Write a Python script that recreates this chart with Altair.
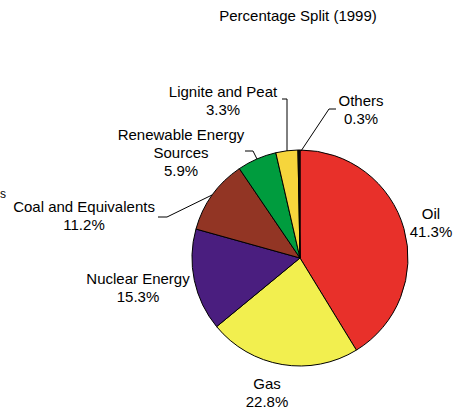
import altair as alt
import pandas as pd

# Primary energy consumption, percentage split (1999)
sources = ["Oil", "Gas", "Nuclear Energy", "Coal and Equivalents",
           "Renewable Energy Sources", "Lignite and Peat", "Others"]
shares = [41.3, 22.8, 15.3, 11.2, 5.9, 3.3, 0.3]
colors = ["#E8302A", "#F2EF4F", "#4A1E7F", "#923524", "#009C3E", "#F6D53C", "#111111"]

# Label text lines per source (name may wrap onto two lines)
name_lines = [["Oil"], ["Gas"], ["Nuclear Energy"], ["Coal and Equivalents"],
              ["Renewable Energy", "Sources"], ["Lignite and Peat"], ["Others"]]

# Label anchors (centre x, first baseline y) in pixels
label_x = [431, 267, 138, 84, 181, 223, 361]
label_y = [219, 389, 284, 212, 140, 97, 106]
line_step = 18

# Leader line paths (pixel points) for the crowded small slices
leaders = {
    "Coal and Equivalents": [(158, 217), (167, 217), (212, 195)],
    "Renewable Energy Sources": [(245, 151), (253, 151), (257, 159)],
    "Lignite and Peat": [(282, 99), (287, 99), (287, 151)],
    "Others": [(336, 109), (329, 109), (301, 151)],
}

W, H = 461, 412
CX, CY, R = 300, 258, 108
FONT = "Liberation Sans"

pie_df = pd.DataFrame({"source": sources, "share": shares, "idx": range(len(sources))})

rows = []
for i, src in enumerate(sources):
    lines = name_lines[i] + [f"{shares[i]}%"]
    for j, t in enumerate(lines):
        rows.append({"x": label_x[i], "y": label_y[i] + j * line_step, "text": t})
label_df = pd.DataFrame(rows)

lead_rows = []
for src, pts in leaders.items():
    for k, (px, py) in enumerate(pts):
        lead_rows.append({"source": src, "step": k, "x": px, "y": py})
lead_df = pd.DataFrame(lead_rows)

pie = alt.Chart(pie_df).mark_arc(outerRadius=R, stroke="black", strokeWidth=1).encode(
    theta=alt.Theta("share:Q", stack=True),
    color=alt.Color("source:N", scale=alt.Scale(domain=sources, range=colors), legend=None),
    order=alt.Order("idx:Q"),
    x=alt.value(CX),
    y=alt.value(CY),
)

labels = alt.Chart(label_df).mark_text(
    font=FONT, fontSize=15, color="black", align="center", baseline="alphabetic"
).encode(
    x=alt.X("x:Q", scale=None, axis=None),
    y=alt.Y("y:Q", scale=None, axis=None),
    text="text:N",
)

lead = alt.Chart(lead_df).mark_line(color="black", strokeWidth=1).encode(
    x=alt.X("x:Q", scale=None, axis=None),
    y=alt.Y("y:Q", scale=None, axis=None),
    detail="source:N",
    order="step:Q",
)

title = alt.Chart(pd.DataFrame({"t": ["Percentage Split (1999)"]})).mark_text(
    font=FONT, fontSize=15, color="black", align="center", baseline="alphabetic"
).encode(x=alt.value(298), y=alt.value(21), text="t:N")

stray = alt.Chart(pd.DataFrame({"t": ["s"]})).mark_text(
    font=FONT, fontSize=12, color="black", align="left", baseline="alphabetic"
).encode(x=alt.value(0), y=alt.value(198), text="t:N")

chart = alt.layer(pie, lead, labels, title, stray).properties(
    width=W, height=H, padding=0, autosize=alt.AutoSizeParams(type="none"),
    background="white",
).configure_view(stroke=None)

chart.save("out.html", embed_options={"renderer": "svg", "actions": False})
